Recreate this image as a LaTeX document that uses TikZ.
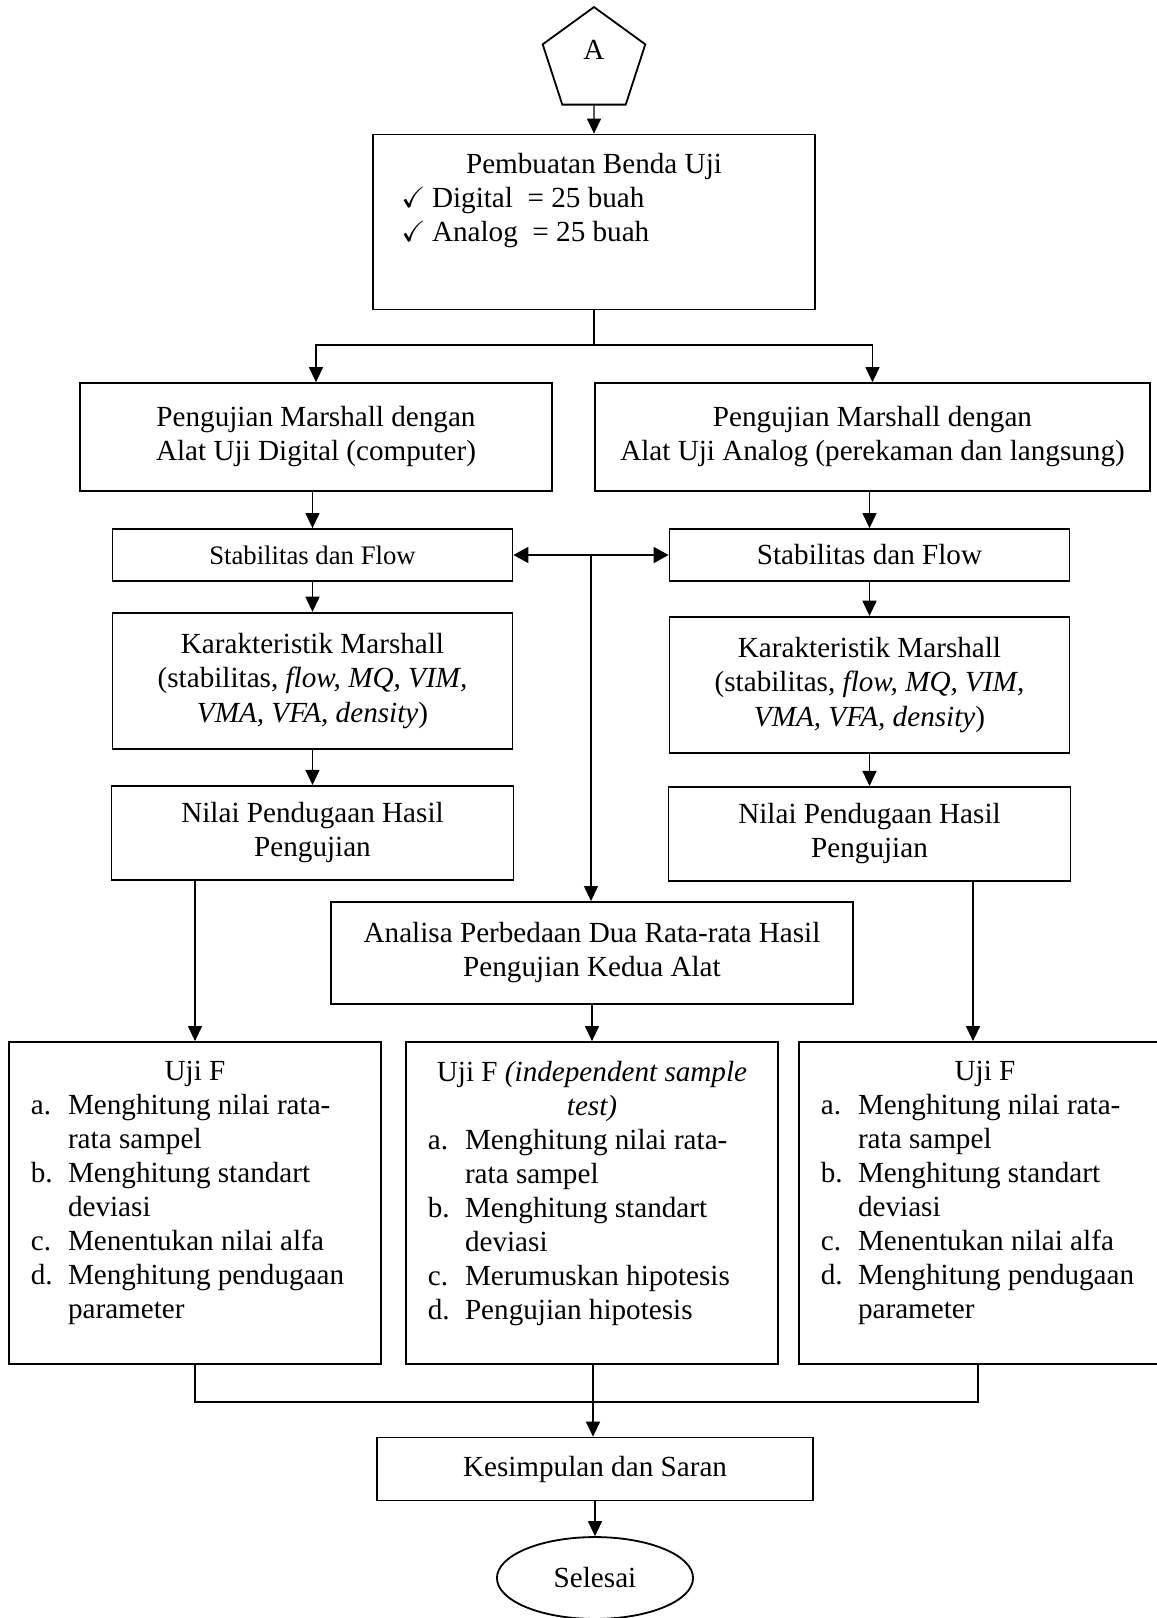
\documentclass[tikz,border=0pt]{standalone}
\usepackage{fontspec}
\setmainfont{Liberation Serif}
\usepackage{amssymb}
\usetikzlibrary{arrows.meta, shapes.geometric, calc}

\tikzset{
  box/.style={draw, line width=0.75pt, align=center, inner sep=2pt,
              font=\fontsize{12}{14}\selectfont},
  listbox/.style={box, inner xsep=9pt, inner ysep=7.8pt},
  arrow/.style={-{Triangle[length=6.2pt,width=5.8pt]}, line width=0.5pt},
  twoway/.style={{Triangle[length=6.2pt,width=6.6pt]}-{Triangle[length=6.2pt,width=6.6pt]}, line width=0.8pt},
  line/.style={line width=0.5pt}
}
\newcommand{\itm}[1]{\makebox[15.3pt][l]{#1}}
\newcommand{\chk}{\makebox[15.3pt][c]{$\checkmark$}}

\begin{document}
\begin{tikzpicture}[x=0.4115pt, y=-0.4115pt]
  \useasboundingbox (0,0) rectangle (1156,1618);
  \fill[white] (0,0) rectangle (1156,1618);

  % Connector and first step
  \node[draw, line width=0.75pt, regular polygon, regular polygon sides=5,
        minimum size=44.4pt, inner sep=0pt, font=\fontsize{12}{14}\selectfont]
        (A) at (594,61) {\raisebox{0.5pt}[0pt][0pt]{A}};
  \node[listbox] (P) at (594,222) {\parbox[c][56.4pt][t]{163.9pt}{\centering
      Pembuatan Benda Uji\par\raggedright
      \chk Digital\ \ = 25 buah\\
      \chk Analog\ \ = 25 buah}};

  % Marshall tests
  \node[box, minimum width=194.2pt, minimum height=44.4pt] (GL) at (316,437)
       {Pengujian Marshall dengan\\Alat Uji Digital (computer)};
  \node[box, minimum width=228.4pt, minimum height=44.4pt] (GR) at (872.5,437)
       {Pengujian Marshall dengan\\Alat Uji Analog (perekaman dan langsung)};

  \node[box, minimum width=164.6pt, minimum height=21.4pt,
        font=\fontsize{11}{13}\selectfont] (SL) at (312.5,555) {Stabilitas dan Flow};
  \node[box, minimum width=164.6pt, minimum height=21.4pt] (SR) at (869.5,555)
       {Stabilitas dan Flow};

  \node[box, minimum width=164.6pt, minimum height=56.2pt] (KL) at (312.5,681)
       {Karakteristik Marshall\\(stabilitas, \textit{flow, MQ, VIM,}\\\textit{VMA, VFA, density})};
  \node[box, minimum width=164.6pt, minimum height=56.2pt] (KR) at (869.5,685)
       {Karakteristik Marshall\\(stabilitas, \textit{flow, MQ, VIM,}\\\textit{VMA, VFA, density})};

  \node[box, minimum width=165.4pt, minimum height=38.8pt] (NL) at (312.5,833)
       {Nilai Pendugaan Hasil\\Pengujian};
  \node[box, minimum width=165.4pt, minimum height=38.8pt] (NR) at (869.5,834)
       {Nilai Pendugaan Hasil\\Pengujian};

  \node[box, minimum width=214.8pt, minimum height=42pt] (AN) at (592,953)
       {Analisa Perbedaan Dua Rata-rata Hasil\\Pengujian Kedua Alat};

  % Uji F
  \node[listbox] (UL) at (195,1203) {\parbox[c][116.9pt][t]{135.1pt}{\centering
      Uji F\par\raggedright
      \itm{a.}Menghitung nilai rata-\\
      \itm{}rata sampel\\
      \itm{b.}Menghitung standart\\
      \itm{}deviasi\\
      \itm{c.}Menentukan nilai alfa\\
      \itm{d.}Menghitung pendugaan\\
      \itm{}parameter}};
  \node[listbox] (UM) at (592,1203) {\parbox[c][116.9pt][t]{135.1pt}{\centering
      Uji F \textit{(independent sample}\\\textit{test)}\par\raggedright
      \itm{a.}Menghitung nilai rata-\\
      \itm{}rata sampel\\
      \itm{b.}Menghitung standart\\
      \itm{}deviasi\\
      \itm{c.}Merumuskan hipotesis\\
      \itm{d.}Pengujian hipotesis}};
  \node[listbox] (UR) at (985,1203) {\parbox[c][116.9pt][t]{135.1pt}{\centering
      Uji F\par\raggedright
      \itm{a.}Menghitung nilai rata-\\
      \itm{}rata sampel\\
      \itm{b.}Menghitung standart\\
      \itm{}deviasi\\
      \itm{c.}Menentukan nilai alfa\\
      \itm{d.}Menghitung pendugaan\\
      \itm{}parameter}};

  % End
  \node[box, minimum width=179.2pt, minimum height=25.9pt] (KS) at (595,1469)
       {Kesimpulan dan Saran};
  \node[box, ellipse, minimum width=80.7pt, minimum height=33.7pt] (SE) at (595,1578)
       {Selesai};

  % Connections
  \coordinate (fork) at (594,345);
  \coordinate (mid) at ($(SL.east)!0.5!(SR.west)$);
  \coordinate (rin) at ($(UR.north)+(-12,0)$);
  \coordinate (rout) at ($(UR.south)+(-7,0)$);
  \coordinate (join) at (593,1402);

  \draw[arrow] (A) -- (P);
  \draw[line] (P) -- (fork);
  \draw[arrow] (fork) -| (GL);
  \draw[arrow] (fork) -| (GR);
  \draw[arrow] (SL.north |- GL.south) -- (SL);
  \draw[arrow] (SR.north |- GR.south) -- (SR);
  \draw[twoway] (SL) -- (SR);
  \draw[arrow] (mid) -- (mid |- AN.north);
  \draw[arrow] (SL) -- (KL);
  \draw[arrow] (SR) -- (KR);
  \draw[arrow] (KL) -- (NL);
  \draw[arrow] (KR) -- (NR);
  \draw[arrow] (UL.north |- NL.south) -- (UL.north);
  \draw[arrow] (rin |- NR.south) -- (rin);
  \draw[arrow] (AN.south -| UM.north) -- (UM);
  \draw[line] (UL.south) |- (join);
  \draw[line] (rout) |- (join);
  \draw[line] (UM.south -| join) -- (join);
  \draw[arrow] (join) -- (join |- KS.north);
  \draw[arrow] (KS) -- (SE);
\end{tikzpicture}
\end{document}
